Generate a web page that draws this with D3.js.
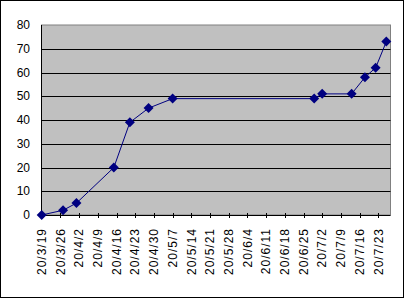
<!DOCTYPE html>
<html>
<head>
<meta charset="UTF-8">
<script src="https://d3js.org/d3.v7.min.js"></script>
<style>
  body { margin: 0; background: #fff; }
  text { font-family: "Liberation Sans", Arial, sans-serif; font-size: 12px; fill: #000; }
  .xlab { letter-spacing: 1px; }
</style>
</head>
<body>
<svg id="chart" width="405" height="299"></svg>
<script>
// data
const dates = ["2020-03-19", "2020-03-27", "2020-04-01", "2020-04-15", "2020-04-21",
               "2020-04-28", "2020-05-07", "2020-06-29", "2020-07-02", "2020-07-13",
               "2020-07-18", "2020-07-22", "2020-07-26"];
const values = [0, 2, 5, 20, 39, 45, 49, 49, 51, 51, 58, 62, 73];
const yTicks = [0, 10, 20, 30, 40, 50, 60, 70, 80];
const axisStart = "2020-03-19";
const axisEnd = "2020-07-27";

const parse = d3.timeParse("%Y-%m-%d");
const fmt = d3.timeFormat("%y/%-m/%-d");
const data = dates.map((d, i) => ({ date: parse(d), value: values[i] }));

const svg = d3.select("#chart");
const plot = { left: 41.5, right: 390.5, top: 25, bottom: 215 };

const x = d3.scaleTime()
    .domain([parse(axisStart), parse(axisEnd)])
    .range([41.7, 389]);
const y = d3.scaleLinear()
    .domain([0, 80])
    .range([plot.bottom, plot.top]);

// outer frame
svg.append("rect")
    .attr("x", 0.5).attr("y", 0.5)
    .attr("width", 403).attr("height", 297)
    .attr("fill", "#fff").attr("stroke", "#000");

// plot area
svg.append("rect")
    .attr("x", plot.left).attr("y", plot.top)
    .attr("width", plot.right - plot.left).attr("height", plot.bottom - plot.top)
    .attr("fill", "#c0c0c0").attr("stroke", "#808080");

// gridlines
svg.selectAll(".grid")
    .data(yTicks.filter(d => d > 0 && d < 80))
    .enter().append("line")
    .attr("x1", plot.left).attr("x2", plot.right)
    .attr("y1", d => Math.round(y(d)) + 0.5).attr("y2", d => Math.round(y(d)) + 0.5)
    .attr("stroke", "#000");

// y labels
svg.selectAll(".ylab")
    .data(yTicks)
    .enter().append("text")
    .attr("x", 30)
    .attr("y", d => y(d))
    .attr("dy", "0.35em")
    .attr("text-anchor", "end")
    .text(d => d);

// axes lines
svg.append("line")
    .attr("x1", plot.left).attr("x2", plot.left)
    .attr("y1", plot.top).attr("y2", plot.bottom)
    .attr("stroke", "#000");
svg.append("line")
    .attr("x1", plot.left).attr("x2", plot.right)
    .attr("y1", plot.bottom + 0.5).attr("y2", plot.bottom + 0.5)
    .attr("stroke", "#000");

// x ticks weekly
const xTicks = d3.timeDay.range(parse(axisStart), parse("2020-07-24"), 7);
svg.selectAll(".xtick")
    .data(xTicks)
    .enter().append("line")
    .attr("x1", d => Math.round(x(d)) + 0.5).attr("x2", d => Math.round(x(d)) + 0.5)
    .attr("y1", plot.bottom - 2).attr("y2", plot.bottom + 3)
    .attr("stroke", "#000");

svg.selectAll(".xlab")
    .data(xTicks)
    .enter().append("text")
    .attr("class", "xlab")
    .attr("transform", d => `translate(${x(d)},228) rotate(-90)`)
    .attr("dy", "0.35em")
    .attr("text-anchor", "end")
    .text(d => fmt(d));

// series line
const line = d3.line()
    .x(d => x(d.date))
    .y(d => y(d.value));

svg.append("path")
    .datum(data)
    .attr("d", line)
    .attr("fill", "none")
    .attr("stroke", "#000080")
    .attr("stroke-width", 1);

// diamond markers
const diamond = d3.symbol().type(d3.symbolSquare).size(50);
svg.selectAll(".pt")
    .data(data)
    .enter().append("path")
    .attr("transform", d => `translate(${x(d.date)},${y(d.value)}) rotate(45)`)
    .attr("d", diamond)
    .attr("fill", "#000080");
</script>
</body>
</html>
